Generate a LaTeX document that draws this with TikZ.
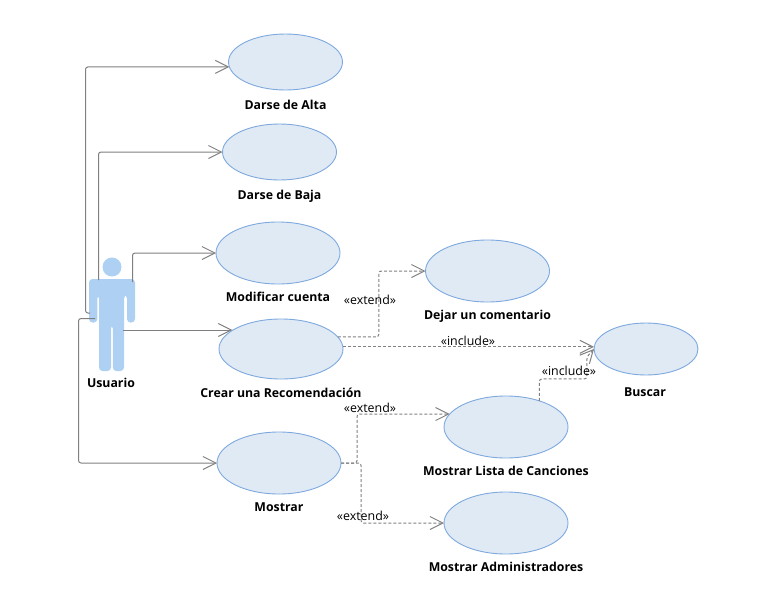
\documentclass[tikz,border=0pt]{standalone}
\usepackage{fontspec}
\setmainfont{Open Sans}
\usetikzlibrary{positioning,shapes.geometric,arrows.meta}

\definecolor{ucfill}{HTML}{E0EAF5}
\definecolor{ucline}{HTML}{7DA9DE}
\definecolor{actorfill}{HTML}{AED0F3}
\definecolor{linkgray}{HTML}{808080}

\begin{document}
\begin{tikzpicture}[
  x=1pt, y=-1pt,
  node distance=8pt,
  usecase/.style={draw=ucline, line width=0.9pt, fill=ucfill, ellipse, inner sep=0pt, outer sep=0pt, minimum width=124pt, minimum height=62pt},
  smallcase/.style={usecase, minimum width=114pt, minimum height=56pt},
  uclabel/.style={inner sep=0pt, text height=9pt, text depth=3pt, font=\fontsize{12.3}{14}\selectfont\bfseries},
  stereo/.style={inner sep=0pt, font=\fontsize{12.4}{14}\selectfont},
  assoc/.style={draw=linkgray, line width=1pt, rounded corners=2.5pt, -{Straight Barb[length=13pt,width=13pt]}},
  dep/.style={assoc, dashed, dash pattern=on 3pt off 2pt}
]
  \useasboundingbox (0,0) rectangle (758,605);

  % use cases
  \node[smallcase] (alta) at (285.5,62) {};
  \node[smallcase] (baja) at (279.5,152) {};
  \node[usecase] (modificar) at (278,253) {};
  \node[usecase, minimum height=60pt] (crear) at (281,349) {};
  \node[usecase] (mostrar) at (279,463) {};
  \node[usecase] (dejar) at (487.5,271) {};
  \node[usecase, minimum width=104pt, minimum height=52pt] (buscar) at (646,349) {};
  \node[usecase] (lista) at (506,427) {};
  \node[usecase] (admin) at (506,523) {};

  \node[uclabel, below=10pt of alta] (altatxt) {Darse de Alta};
  \node[uclabel, below=10pt of baja] (bajatxt) {Darse de Baja};
  \node[uclabel, below=of modificar] (modificartxt) {Modificar cuenta};
  \node[uclabel, below=9pt of crear] (creartxt) {Crear una Recomendación};
  \node[uclabel, below=of mostrar] (mostrartxt) {Mostrar};
  \node[uclabel, below=of dejar] (dejartxt) {Dejar un comentario};
  \node[uclabel, below=12pt of buscar, xshift=-1pt] (buscartxt) {Buscar};
  \node[uclabel, below=of lista] (listatxt) {Mostrar Lista de Canciones};
  \node[uclabel, below=of admin] (admintxt) {Mostrar Administradores};

  % actor
  \node[circle, fill=actorfill, minimum size=19pt, inner sep=0pt] (head) at (112,267) {};
  \fill[actorfill, rounded corners=3.5pt] (89,322.5) -- (89,279) -- (135,279) -- (135,322.5) -- (127,322.5) -- (127,295) -- (124,295) -- (124,371) -- (112.8,371) -- (112.8,325) -- (111,325) -- (111,371) -- (99,371) -- (99,295) -- (97.3,295) -- (97.3,322.5) -- cycle;
  \node[uclabel] (usuario) at (111,384) {Usuario};

  \coordinate (fromalta) at (90,313);
  \coordinate (frombaja) at (98.5,280);
  \coordinate (frommod) at (132.5,282);
  \coordinate (fromcrear) at (123,330);
  \coordinate (frommostrar) at (95,318.5);

  \draw[assoc] (fromalta) -- ++(-4.5,0) |- (alta.185);
  \draw[assoc] (frombaja) |- (baja.west);
  \draw[assoc] (frommod) |- (modificar.west);
  \draw[assoc] (fromcrear) -- (crear.159 |- fromcrear);
  \draw[assoc] (frommostrar) -- ++(-16.5,0) |- (mostrar.west);

  % extend and include
  \draw[dep] (crear.12) -- ++(41,0) |- (dejar.west);
  \draw[dep] (crear.2) -- (buscar.west |- crear.2);
  \draw[dep] (lista.38) -- ++(0,-22) -- ++(47.5,0) -- ++(0,-22) -- (buscar.west);
  \draw[dep] (mostrar.east) -- ++(16,0) |- (lista.167);
  \draw[dep] (mostrar.east) -- ++(20,0) |- (admin.west);

  \node[stereo] (ext1) at (370,300) {«extend»};
  \node[stereo] (inc1) at (468,340.5) {«include»};
  \node[stereo] (inc2) at (569,371) {«include»};
  \node[stereo] (ext2) at (370,407.5) {«extend»};
  \node[stereo] (ext3) at (363,515.5) {«extend»};
\end{tikzpicture}
\end{document}
